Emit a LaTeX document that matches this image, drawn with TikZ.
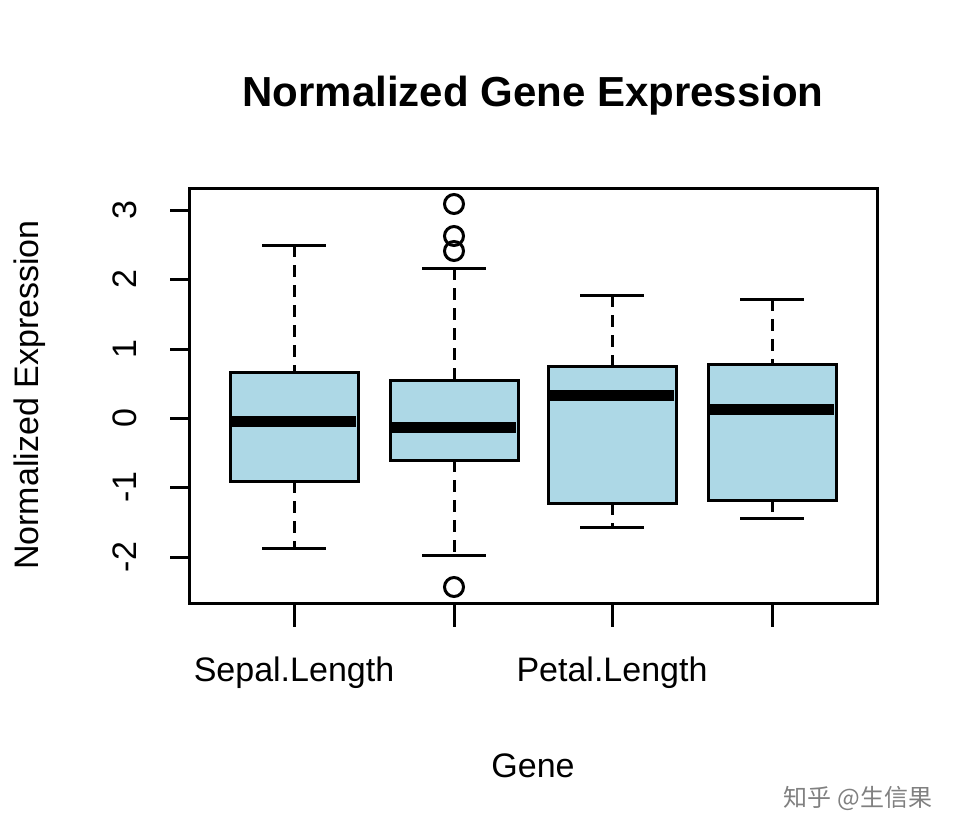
\documentclass[tikz,border=0pt]{standalone}
\usepackage{fontspec}
\setmainfont{Liberation Sans}
\newfontfamily\cjk{Noto Sans CJK SC}
\definecolor{boxfill}{HTML}{ADD8E6}
\begin{document}
\begin{tikzpicture}[x=1pt,y=-1pt,
  bx/.style={draw=black,fill=boxfill,line width=3pt},
  med/.style={line width=11pt},
  wh/.style={line width=3pt,dash pattern=on 12pt off 8pt},
  whcap/.style={line width=3pt},
  ol/.style={draw,line width=3pt,circle,minimum size=19pt,inner sep=0pt},
  lab/.style={font=\fontsize{34}{38}\selectfont}]
\useasboundingbox (0,0) rectangle (974,838);
\node[font=\bfseries\fontsize{42}{46}\selectfont] (title) at (533,96) {Normalized Gene Expression};
\foreach \c/\wt/\qt/\m/\qb/\wb [count=\i] in {294/245/372/421/481/548, 454/268/380/427/460/555, 612/295/366/395/503/527, 772/299/364/409/500/518}{
  \draw[wh] (\c,\wt) -- (\c,\qt);
  \draw[wh] (\c,\qb) -- (\c,\wb);
  \draw[whcap] (\c-32,\wt) -- (\c+32,\wt);
  \draw[whcap] (\c-32,\wb) -- (\c+32,\wb);
  \draw[bx] (\c-64,\qt) rectangle (\c+64,\qb);
  \draw[med] (\c-62,\m) -- (\c+62,\m);
  \draw[line width=3pt] (\c,603) -- (\c,627);
}
\foreach \y in {204,236,251,587} \node[ol] at (454,\y) {};
\draw[line width=3pt] (189,188) rectangle (877,603);
\foreach \v/\y in {3/210,2/279,1/349,0/418,-1/487,-2/557}{
  \draw[line width=3pt] (189,\y) -- (170,\y);
  \node[lab,rotate=90] at (125,\y) {\v};
}
\node[lab] (s) at (294,673) {Sepal.Length};
\node[lab] (p) at (612,673) {Petal.Length};
\node[lab] (g) at (533,766) {Gene};
\node[lab,rotate=90] (yl) at (30,395) {Normalized Expression};
\node[font=\cjk\fontsize{24}{28}\selectfont,text=gray] (wm) at (858,798) {知乎 @生信果};
\end{tikzpicture}
\end{document}
